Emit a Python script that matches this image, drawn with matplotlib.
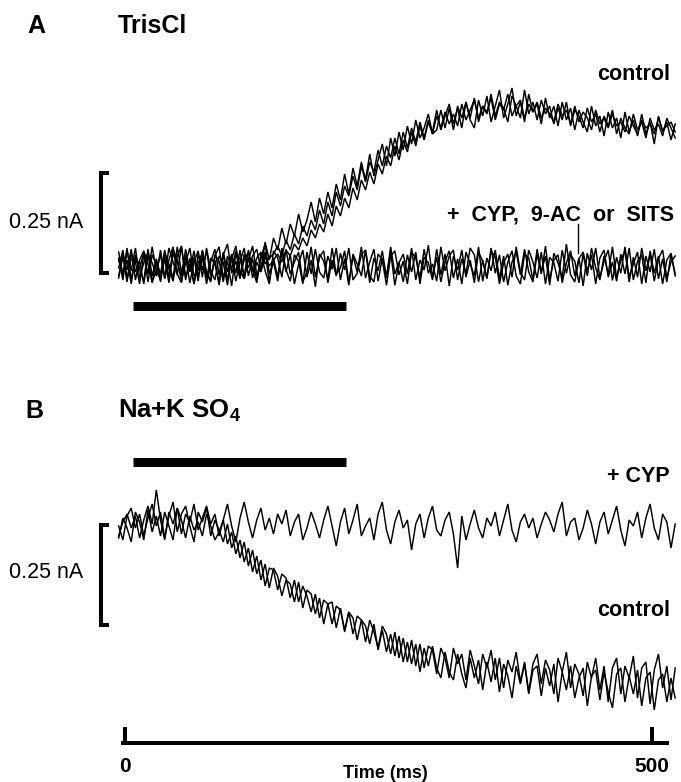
import numpy as np
import matplotlib
matplotlib.use("Agg")
import matplotlib.pyplot as plt

# ---------------- data (currents in pA, time in ms) ----------------
t_start, t_end = -6, 522

a_control_1 = [20, -35, 38, -12, 45, -30, 8, 32, -42, 15, -20, 40, -8, -38, 25, 50, -28, 5, -45, 30,
               -10, 38, -25, 15, -48, 28, 55, -18, 12, -32, 30, -5, 25, 42, -10, 60, 15, 70, 40, 95,
               55, 105, 75, 130, 85, 115, 160, 110, 170, 130, 185, 145, 205, 165, 230, 180, 245, 200, 260, 215,
               280, 225, 265, 305, 250, 320, 275, 335, 290, 350, 305, 365, 320, 345, 380, 330, 340, 390, 345, 395,
               340, 400, 370, 410, 365, 345, 415, 375, 425, 360, 400, 440, 370, 405, 445, 375, 410, 360, 430, 385,
               405, 355, 420, 370, 400, 350, 410, 365, 395, 340, 390, 360, 335, 400, 350, 375, 325, 385, 345, 370,
               320, 385, 335, 365, 325, 380, 330, 360, 305, 375, 335, 360, 315, 355]
a_control_2 = [-30, 25, -40, 35, -15, 12, -45, 30, 8, -25, 40, -32, 15, 48, -20, -42, 28, -12, 38, -28,
               22, -45, 10, 42, -22, 30, -35, 18, 50, -12, -32, 22, -15, 20, 35, 5, 20, 30, 50, 25,
               65, 40, 80, 55, 100, 75, 115, 90, 140, 105, 160, 125, 185, 150, 200, 175, 225, 190, 250, 210,
               260, 235, 290, 250, 300, 270, 320, 280, 335, 295, 345, 310, 360, 320, 365, 335, 390, 340, 375, 405,
               355, 395, 345, 410, 370, 420, 360, 400, 380, 430, 375, 410, 395, 360, 425, 400, 370, 440, 380, 410,
               365, 415, 380, 400, 355, 395, 365, 410, 350, 390, 375, 345, 395, 360, 380, 335, 375, 350, 390, 330,
               370, 345, 330, 380, 340, 360, 320, 370, 340, 355, 325, 370, 345, 320]
a_control_3 = [15, -22, 45, -35, 20, -8, 35, -40, 28, 5, -30, 18, -42, 30, 10, -25, 42, -15, 22, -38,
               40, -15, -35, 28, 12, -40, 25, -8, 38, -25, 15, 35, -30, 10, -15, 25, 0, 15, 30, 10,
               40, 25, 55, 40, 70, 50, 90, 70, 105, 85, 130, 100, 150, 125, 170, 145, 195, 165, 215, 190,
               235, 205, 255, 230, 275, 250, 300, 265, 315, 285, 335, 300, 350, 315, 360, 330, 375, 345, 385, 355,
               380, 350, 405, 365, 390, 415, 370, 400, 385, 420, 365, 405, 390, 430, 375, 400, 415, 370, 405, 385,
               410, 370, 395, 380, 360, 405, 375, 390, 355, 400, 360, 385, 370, 340, 390, 355, 370, 345, 380, 350,
               360, 335, 375, 350, 330, 365, 345, 355, 330, 370, 340, 350, 360, 335]
a_blocked_1 = [-25, 30, -10, 42, -35, 15, 38, 5, -40, -12, 28, -30, 45, 10, -22, 50, -35, 20, -45, 8,
               30, -18, -40, 25, 48, -30, 12, -50, 32, 18, -25, 40, -8, -42, 22, 55, -20, 10, -38, 35,
               -15, 28, -45, 5, 40, -28, 15, -52, 30, 12, -35, 45, -20, -5, 38, -42, 25, -15, 48, -30,
               10, 42, -38, 20, -25, 35, -48, 8, 30, -20, 45, -35, 15, -10, 52, -28, 22, -40, 12, 38,
               -30, 18, -45, 35, 5, -25, 48, -38, 20, -12, 40, -32, 25, -48, 10, 35, -22, 42, -15, -40,
               30, -20, 50, -35, 15, 28, -42, 8, 38, -25, 20, -50, 32, -10, 45, -30, 12, 40, -36, 22,
               -18, 48, -28, 5, 35, -45, 25, -15, 42, -32, 18, -40, 30, -20]
a_blocked_2 = [35, -20, 15, -45, 28, -8, -38, 42, -25, 18, -40, 32, 5, -30, 48, -15, 22, -42, 10, 38,
               -28, 45, -12, -35, 25, 8, -48, 30, -18, 40, -32, 15, 50, -22, -5, 35, -40, 20, -28, 45,
               -10, -38, 28, 12, -45, 35, -20, 42, -15, -30, 25, -8, 45, -35, 18, -48, 30, 5, -25, 40,
               -42, 20, -12, 38, -30, 48, -20, 10, -40, 28, -15, 35, -45, 22, 8, -35, 42, -22, 30, -50,
               25, -10, 40, -28, 15, -42, 35, 12, -30, 45, -18, 28, -40, 10, 38, -25, -45, 30, 20, -35,
               42, -15, 25, -48, 32, 8, -30, 55, -22, -40, 18, 35, -12, 28, -45, 20, 40, -28, 10, -38,
               30, -20, 45, -35, 12, 28, -42, 38, -18, 25, -45, 15, 32, -25]
a_blocked_3 = [-5, 40, -32, 18, 10, -45, 30, -20, 48, -12, -35, 25, -28, 42, 15, -38, 8, 45, -25, -10,
               38, -30, 20, 5, -42, 35, -15, 28, -38, 12, 45, -25, 18, -35, 30, -12, -45, 38, 20, -28,
               42, -20, 10, 35, -40, -15, 48, -28, 22, 38, -42, 15, -25, 32, -10, 45, -35, -18, 28, 40,
               -25, -40, 30, 15, -48, 25, 38, -22, 12, -45, 35, 20, -30, 42, -18, 5, -38, 48, -12, 25,
               40, -35, 18, -20, 45, 28, -40, 15, -32, 38, 22, -45, 8, 30, -28, 48, -15, -35, 40, 10,
               -30, 35, -45, 22, 8, -38, 40, -18, 28, 12, -42, 30, -25, 45, -5, -35, 25, -20, 48, -30,
               15, 38, -40, 22, -28, 45, -12, 30, -38, 18, 40, -30, 10, 25]

b_cyp = [-15, 20, 40, 5, 35, -20, 25, 60, 15, 100, 25, -25, 45, 15, 55, -10, 40, 20, 65, 0,
         30, 60, 15, 40, -15, 25, 65, 10, -30, 30, 70, 20, -20, 25, 55, 0, 30, -10, 40, 15,
         50, -15, 20, 40, -25, 5, 45, 15, -20, 25, 60, 10, -40, 20, 55, -10, 25, 65, -15, 10,
         30, -25, 40, 70, 0, -35, 20, 50, 5, 25, -50, 15, 40, -20, 30, 60, 0, -15, 25, 45,
         -10, -95, 35, -25, 15, 50, 5, -20, 30, 10, 45, -15, 25, 65, 0, -30, 20, 40, 5, 30,
         -20, 15, 45, 25, -5, 40, 70, -15, 20, 30, -25, 5, 50, 15, -35, 20, 45, -10, 25, 60,
         0, -40, 25, 10, 45, -20, 30, 65, 5, -25, 40, 20, -45, 15]
b_control_1 = [10, -25, 35, 55, 5, 40, -15, 30, 65, 10, 45, -20, 35, 70, -5, 40, 60, 10, -30, 45,
               20, 55, -15, 25, 0, -30, 15, -45, -15, -70, -30, -90, -50, -110, -75, -140, -95, -100, -150, -110,
               -120, -170, -125, -180, -140, -165, -205, -160, -220, -175, -185, -235, -190, -200, -250, -205, -260, -215, -225, -280,
               -225, -255, -295, -240, -260, -310, -255, -320, -270, -330, -275, -340, -285, -345, -290, -300, -360, -295, -320, -370,
               -295, -335, -310, -375, -300, -340, -385, -310, -345, -300, -375, -320, -395, -325, -355, -305, -380, -330, -405, -335,
               -310, -385, -325, -350, -410, -320, -355, -305, -395, -335, -360, -415, -330, -370, -320, -400, -340, -430, -345, -320,
               -410, -340, -370, -315, -420, -345, -330, -435, -350, -310, -395, -340, -425, -345]
b_control_2 = [-20, 30, 5, -30, 45, 20, -25, 50, -5, 35, -15, 45, 10, -25, 55, 25, -20, 35, 0, 20,
               -15, 40, 10, -25, -5, 25, -35, -5, -60, -25, -80, -45, -105, -65, -125, -85, -145, -95, -115, -165,
               -125, -135, -180, -130, -195, -150, -160, -210, -170, -235, -185, -180, -245, -195, -255, -205, -220, -275, -225, -240,
               -285, -235, -300, -250, -305, -260, -315, -265, -330, -280, -335, -285, -355, -295, -340, -290, -345, -370, -305, -355,
               -375, -310, -360, -395, -320, -370, -325, -400, -330, -380, -320, -405, -335, -365, -420, -340, -385, -335, -410, -350,
               -340, -415, -345, -390, -335, -430, -355, -400, -340, -420, -370, -345, -440, -365, -350, -425, -355, -405, -445, -360,
               -345, -430, -365, -410, -350, -440, -370, -355, -450, -375, -360, -430, -370, -420]

stim_on, stim_off = 8, 210        # ms, bar
scale_nA = 0.25                   # vertical scale bar
time_ticks = [0, 500]             # ms
pointer_t = 430                   # ms, label pointer in panel A

# ---------------- layout (figure coordinates in ms / nA) ----------------
W, H, DPI = 681, 782, 100
px_per_ms = (652 - 125) / 500.0
px_per_nA = 400.0

def X(px):
    return (px - 125) / px_per_ms

def Y(px):
    return -px / px_per_nA

fig = plt.figure(figsize=(W / DPI, H / DPI), dpi=DPI)
ax = fig.add_axes([0, 0, 1, 1])
ax.set_xlim(X(0), X(W))
ax.set_ylim(Y(H), Y(0))
ax.axis("off")

baseA = Y(266)
baseB = Y(530)
lw_tr = 1.05

def trace(values, base):
    v = np.asarray(values, dtype=float)
    t = np.linspace(t_start, t_end, len(v))
    ax.plot(t, base + v / 1000.0, color="black", lw=lw_tr, solid_joinstyle="miter")

for tr in (a_blocked_1, a_blocked_2, a_blocked_3, a_control_1, a_control_2, a_control_3):
    trace(tr, baseA)
for tr in (b_cyp, b_control_1, b_control_2):
    trace(tr, baseB)

thick = 2.9
for ypx in (306, 462):
    ax.plot([stim_on, stim_off], [Y(ypx), Y(ypx)], color="black", lw=6.5,
            solid_capstyle="butt")

for top_px in (173, 525):
    y0 = Y(top_px)
    y1 = y0 - scale_nA
    xb = X(101)
    xs = X(109)
    ax.plot([xs, xb, xb, xs], [y0, y0, y1, y1], color="black", lw=thick,
            solid_joinstyle="miter", solid_capstyle="butt")

yax = Y(743)
ax.plot([X(121), X(669)], [yax, yax], color="black", lw=thick, solid_capstyle="butt")
for tk in time_ticks:
    ax.plot([tk, tk], [yax, Y(727)], color="black", lw=thick, solid_capstyle="butt")

fam = ["Liberation Sans", "DejaVu Sans"]
ax.text(0, Y(766), "0", ha="center", va="center", fontsize=15,
        fontweight="bold", family=fam)
ax.text(500, Y(766), "500", ha="center", va="center", fontsize=15,
        fontweight="bold", family=fam)
ax.text(X(385), Y(773), "Time (ms)", ha="center", va="center", fontsize=13,
        fontweight="bold", family=fam)

ax.text(X(27), Y(26), "A", ha="left", va="center", fontsize=18,
        fontweight="bold", family=fam)
ax.text(X(118), Y(26), "TrisCl", ha="left", va="center", fontsize=18,
        fontweight="bold", family=fam)
ax.text(X(25), Y(411), "B", ha="left", va="center", fontsize=18,
        fontweight="bold", family=fam)
ax.text(X(118), Y(411), r"Na+K SO$_\mathregular{4}$", ha="left", va="center",
        fontsize=18.5, fontweight="bold", family=fam)

for ypx in (222, 573):
    ax.text(X(9), Y(ypx), "0.25 nA", ha="left", va="center", fontsize=15.5,
            family=fam)

ax.text(X(670), Y(74), "control", ha="right", va="center", fontsize=15.5,
        fontweight="bold", family=fam)
ax.text(X(674), Y(215), "+  CYP,  9-AC  or  SITS", ha="right", va="center",
        fontsize=15.5, fontweight="bold", family=fam)
ax.plot([pointer_t, pointer_t], [Y(224), Y(253)], color="black", lw=1.0)
ax.text(X(670), Y(477), "+ CYP", ha="right", va="center", fontsize=15.5,
        fontweight="bold", family=fam)
ax.text(X(670), Y(611), "control", ha="right", va="center", fontsize=15.5,
        fontweight="bold", family=fam)

fig.savefig("out.png", dpi=DPI)
